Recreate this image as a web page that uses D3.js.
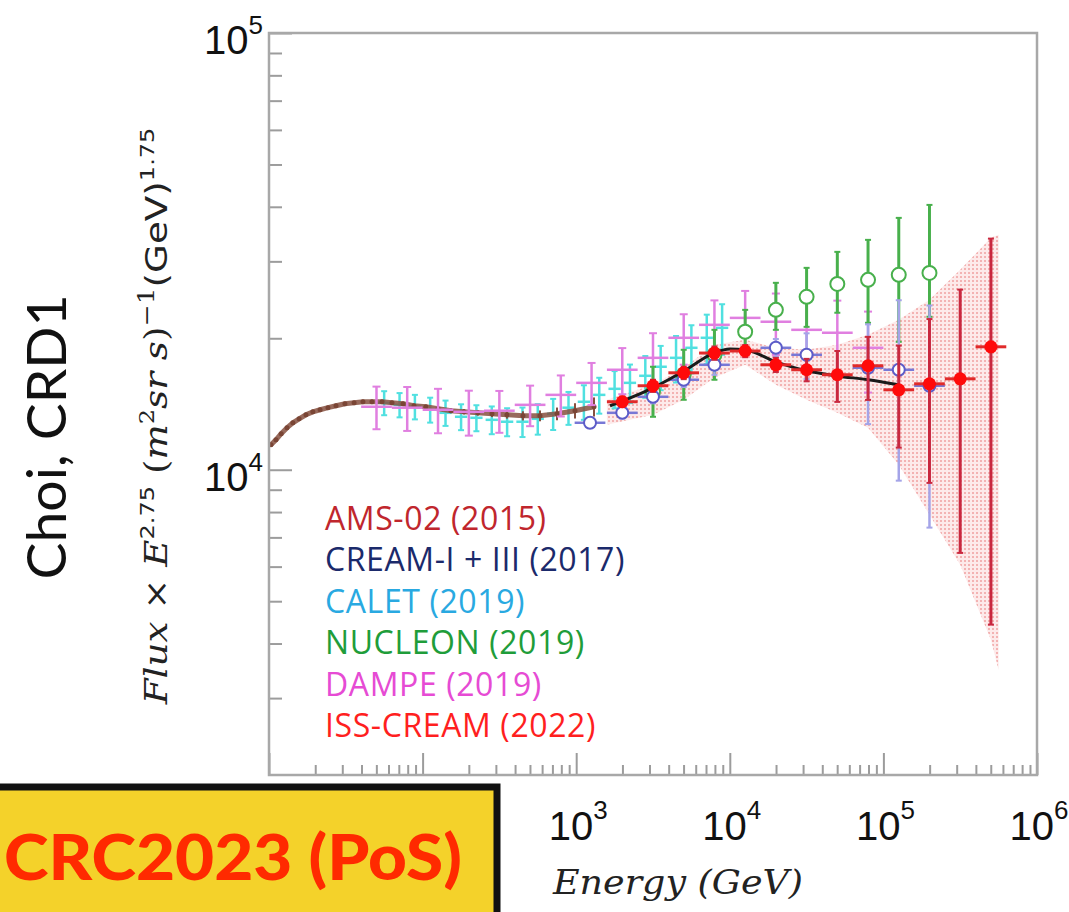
<!DOCTYPE html>
<html><head><meta charset="utf-8">
<script src="https://cdn.jsdelivr.net/npm/d3@7"></script>
<style>body{margin:0;background:#fff}svg{display:block}</style>
</head><body>
<svg id="c" width="1069" height="912"></svg>
<script>
// ---------------- DATA ----------------
// AMS-02 (2015)
const amsE = [10.3, 11.1, 12.0, 13.1, 14.3, 15.7, 17.4, 19.3, 21.5, 24.2, 27.3, 31.2, 35.8, 40.9, 46.8, 54.4, 63.2, 74.6, 87.9, 105, 126, 153, 186, 229, 283, 354, 450, 581, 750, 982, 1306];
const amsF = [11410, 11710, 12090, 12480, 12810, 13080, 13360, 13570, 13720, 13870, 14010, 14160, 14230, 14310, 14310, 14310, 14230, 14160, 14010, 13940, 13790, 13650, 13570, 13500, 13430, 13360, 13290, 13290, 13430, 13650, 13940];
const amsErr = [60, 60, 60, 60, 60, 60, 70, 70, 70, 70, 80, 80, 80, 90, 90, 100, 100, 110, 120, 130, 140, 160, 180, 200, 230, 270, 320, 380, 450, 550, 700];
// CALET (2019)
const calE = [56.2, 70.8, 89.1, 112, 141, 178, 224, 282, 355, 447, 562, 708, 891, 1122, 1413, 1778, 2239, 2818, 3548, 4467, 5623, 7079, 8913];
const calF = [14230, 14080, 13940, 13720, 13500, 13220, 13150, 13010, 12880, 12880, 13080, 13430, 13870, 14310, 14840, 15320, 15810, 16410, 17210, 18040, 19020, 20050, 21130];
const calErr = [900, 900, 900, 900, 900, 900, 900, 950, 950, 1000, 1050, 1100, 1200, 1300, 1400, 1500, 1600, 1800, 2000, 2200, 2400, 2600, 2800];
const calHalfBin = 0.04;
// DAMPE (2019)
const damE = [50.1, 79.4, 126, 200, 316, 501, 794, 1259, 1995, 3162, 5012, 7943, 12590, 19950, 31620, 50120, 79430];
const damF = [13940, 13870, 13720, 13570, 13650, 14080, 14840, 15810, 16940, 18040, 20050, 21470, 22270, 21820, 20910, 20590, 19020];
const damErr = [1560, 1600, 1600, 1600, 1500, 1500, 1600, 1750, 2050, 2500, 2650, 2950, 3400, 3500, 3600, 3800, 4000];
const damHalfBin = 0.1;
// NUCLEON (2019) - asymmetric errors
const nucE = [3162, 5012, 7943, 12590, 19950, 31620, 50120, 79430, 125900, 199500];
const nucF = [15080, 16500, 18330, 20700, 23230, 24880, 26640, 27210, 27940, 28230];
const nucErrHi = [2130, 2320, 2580, 2530, 3560, 4110, 4900, 6390, 9790, 12170];
const nucErrLo = [1860, 2040, 2260, 1880, 2320, 3640, 3760, 5510, 8310, 5830];
const nucHalfBin = 0.0;
// CREAM-I + III (2017)
const crE = [1230, 1995, 3162, 5012, 7943, 19950, 31620, 79430, 125900, 199500];
const crF = [12810, 13500, 14690, 16070, 17390, 19020, 18330, 17120, 16940, 15570];
const crErr = [350, 400, 500, 600, 900, 900, 2200, 4400, 7500, 8200];
const crHalfBin = 0.1;
// ISS-CREAM (2022)
const issE = [1995, 3162, 5012, 7943, 12590, 19950, 31620, 50120, 79430, 125900, 199500, 316200, 501200];
const issF = [14310, 15570, 16670, 18500, 18700, 17390, 16940, 16500, 17300, 15240, 15730, 16150, 19120];
const issErr = [400, 500, 550, 650, 600, 650, 1000, 2200, 2850, 4000, 6400, 9700, 14700];
const issHalfBin = 0.1;
// ISS-CREAM systematic band
const bandE = [1585, 3162, 5012, 7943, 12590, 19950, 31620, 50120, 79430, 125900, 199500, 316200, 501200, 562300];
const bandHi = [14460, 15650, 17120, 19320, 19840, 19020, 18820, 19320, 20370, 22040, 24490, 28690, 33960, 34500];
const bandLo = [12680, 13360, 14460, 16240, 17390, 15650, 14460, 13500, 12480, 10270, 7890, 6060, 4080, 3480];
// fit line
const fitE = [1660, 3162, 5012, 7943, 10000, 12590, 19950, 31620, 50120, 79430, 125900];
const fitF = [14010, 15400, 16820, 18520, 18900, 18820, 17660, 16850, 16400, 16070, 15650];
// axes
const xDomain = [10, 1e6];
const yDomain = [2000, 1e5];
const xTickLabels = [1e3, 1e4, 1e5, 1e6];
const yTickLabels = [1e4, 1e5];
const legendLabels = ["AMS-02 (2015)", "CREAM-I + III (2017)", "CALET (2019)", "NUCLEON (2019)", "DAMPE (2019)", "ISS-CREAM (2022)"];
const legendColors = ["#c0262d", "#1b2a6b", "#29a9e1", "#1f9d3a", "#e64bd4", "#ff1f1f"];

// ---------------- CHART ----------------
const svg = d3.select("#c");
const x = d3.scaleLog().domain(xDomain).range([269, 1037]);
const y = d3.scaleLog().domain(yDomain).range([775, 33]);

const defs = svg.append("defs");
const pat = defs.append("pattern").attr("id", "hatch").attr("patternUnits", "userSpaceOnUse").attr("width", 4).attr("height", 4);
pat.append("rect").attr("width", 4).attr("height", 4).attr("fill", "#fdeaea");
pat.append("rect").attr("width", 2).attr("height", 2).attr("fill", "#f3b3b3");

// band
const band = bandE.map((e, i) => ({e, lo: bandLo[i], hi: bandHi[i]}));
svg.append("path").datum(band)
  .attr("d", d3.area().x(d => x(d.e)).y0(d => y(d.lo)).y1(d => y(d.hi)))
  .attr("fill", "url(#hatch)");

function series(E, F, ErrLo, ErrHi, halfDex, o) {
  const g = svg.append("g");
  const data = E.map((e, i) => ({e, f: F[i], lo: F[i] - ErrLo[i], hi: F[i] + ErrHi[i]}));
  const k = Math.pow(10, halfDex);
  g.selectAll("line.v").data(data).join("line").attr("class", "v")
    .attr("x1", d => x(d.e)).attr("x2", d => x(d.e))
    .attr("y1", d => y(Math.max(d.lo, yDomain[0]))).attr("y2", d => y(d.hi))
    .attr("stroke", o.vcol).attr("stroke-width", o.vw);
  if (o.cap) {
    ["lo", "hi"].forEach(key => {
      g.selectAll("line.c" + key).data(data).join("line").attr("class", "c" + key)
        .attr("x1", d => x(d.e) - o.cap).attr("x2", d => x(d.e) + o.cap)
        .attr("y1", d => y(d[key])).attr("y2", d => y(d[key]))
        .attr("stroke", o.vcol).attr("stroke-width", 2);
    });
  }
  if (halfDex > 0) {
    g.selectAll("line.h").data(data).join("line").attr("class", "h")
      .attr("x1", d => x(d.e / k)).attr("x2", d => x(d.e * k))
      .attr("y1", d => y(d.f)).attr("y2", d => y(d.f))
      .attr("stroke", o.hcol).attr("stroke-width", o.hw);
  }
  if (o.r) {
    g.selectAll("circle").data(data).join("circle")
      .attr("cx", d => x(d.e)).attr("cy", d => y(d.f)).attr("r", o.r)
      .attr("fill", o.fill).attr("stroke", o.stroke).attr("stroke-width", o.sw || 0);
  }
}

// CALET
series(calE, calF, calErr, calErr, calHalfBin, {vcol: "#50e0e0", vw: 2.5, hcol: "#50e0e0", hw: 2.5, cap: 3});
// AMS-02
svg.append("path").datum(amsE.map((e, i) => [e, amsF[i]]))
  .attr("d", d3.line().x(d => x(d[0])).y(d => y(d[1])))
  .attr("fill", "none").attr("stroke", "#86503f").attr("stroke-width", 5).attr("stroke-opacity", 0.85);
series(amsE, amsF, amsErr, amsErr, 0, {vcol: "#86503f", vw: 2, r: 2.5, fill: "#7a4535"});
// DAMPE
series(damE, damF, damErr, damErr, damHalfBin, {vcol: "#e07fe0", vw: 2.5, hcol: "#e07fe0", hw: 2.5, cap: 4});
// NUCLEON
series(nucE, nucF, nucErrLo, nucErrHi, nucHalfBin, {vcol: "#48b04c", vw: 3, cap: 3, r: 7, fill: "#fff", stroke: "#48b04c", sw: 2});
// CREAM
series(crE, crF, crErr, crErr, crHalfBin, {vcol: "#a4a4e8", vw: 2.5, hcol: "#7878d6", hw: 2.5, cap: 3, r: 6, fill: "#fff", stroke: "#5c5cc8", sw: 2});
// fit line
svg.append("path").datum(fitE.map((e, i) => [e, fitF[i]]))
  .attr("d", d3.line().curve(d3.curveMonotoneX).x(d => x(d[0])).y(d => y(d[1])))
  .attr("fill", "none").attr("stroke", "#1a1a1a").attr("stroke-width", 3);
// ISS-CREAM
series(issE, issF, issErr, issErr, issHalfBin, {vcol: "#c9283f", vw: 3, hcol: "#e02a2a", hw: 3, cap: 3, r: 6.5, fill: "#ff0a0a"});

// ---------------- AXES ----------------
const axisCol = "#9c9c9c";
const xMinor = [], yMinor = [];
for (let d = 10; d < xDomain[1]; d *= 10) for (let m = 2; m <= 9; m++) xMinor.push(d * m);
for (let d = 1000; d < yDomain[1]; d *= 10) for (let m = 2; m <= 9; m++) { const v = d * m; if (v > yDomain[0] && v < yDomain[1]) yMinor.push(v); }
const xMajor = [10, 100, 1e3, 1e4, 1e5, 1e6];
const yMajor = [1e4, 1e5];

function styleAxis(g) { g.select(".domain").remove(); g.selectAll("line").attr("stroke", axisCol).attr("stroke-width", 2); }
svg.append("g").attr("transform", "translate(0,775)").call(d3.axisBottom(x).tickValues(xMinor).tickSize(-10).tickFormat("")).call(styleAxis);
svg.append("g").attr("transform", "translate(0,775)").call(d3.axisBottom(x).tickValues(xMajor).tickSize(-22).tickFormat("")).call(styleAxis);
svg.append("g").attr("transform", "translate(269,0)").call(d3.axisLeft(y).tickValues(yMinor).tickSize(-13).tickFormat("")).call(styleAxis);
svg.append("g").attr("transform", "translate(269,0)").call(d3.axisLeft(y).tickValues(yMajor).tickSize(-23).tickFormat("")).call(styleAxis);
svg.append("rect").attr("x", 269).attr("y", 33).attr("width", 768).attr("height", 742)
  .attr("fill", "none").attr("stroke", "#a8a8a8").attr("stroke-width", 2.5);

const numFont = "'Liberation Sans', Arial, sans-serif";
svg.selectAll("text.xl").data(xTickLabels).join("text").attr("class", "xl")
  .attr("x", d => x(d) + 2).attr("y", 840).attr("text-anchor", "middle")
  .attr("font-family", numFont).attr("font-size", 40).attr("fill", "#111")
  .each(function(d) {
    const t = d3.select(this);
    t.append("tspan").text("10");
    t.append("tspan").attr("dy", -21).attr("font-size", 26).text(Math.round(Math.log10(d)));
  });
svg.selectAll("text.yl").data(yTickLabels).join("text").attr("class", "yl")
  .attr("x", 263).attr("y", d => y(d) + 21).attr("text-anchor", "end")
  .attr("font-family", numFont).attr("font-size", 40).attr("fill", "#111")
  .each(function(d) {
    const t = d3.select(this);
    t.append("tspan").text("10");
    t.append("tspan").attr("dy", -20).attr("font-size", 26).text(Math.round(Math.log10(d)));
  });

// axis titles
svg.append("text").attr("x", 553).attr("y", 894)
  .attr("font-family", "'DejaVu Serif', serif").attr("font-style", "italic").attr("font-size", 33)
  .attr("textLength", 250).attr("lengthAdjust", "spacingAndGlyphs").attr("fill", "#222")
  .text("Energy (GeV)");

const yt = svg.append("text").attr("text-anchor", "middle")
  .attr("font-family", "'DejaVu Serif', serif").attr("font-size", 31).attr("fill", "#222");
const serifI = s => yt.append("tspan").attr("font-style", "italic").text(s);
serifI("Flux");
yt.append("tspan").text(" × ");
serifI("E");
yt.append("tspan").attr("dy", -13).attr("font-size", 20).attr("font-family", "'DejaVu Sans', sans-serif").text("2.75");
yt.append("tspan").attr("dy", 13).text(" (");
serifI("m");
yt.append("tspan").attr("dy", -13).attr("font-size", 20).text("2");
yt.append("tspan").attr("dy", 13).attr("font-style", "italic").text("sr s");
yt.append("tspan").text(")");
yt.append("tspan").attr("dy", -13).attr("font-size", 22).text("−1");
yt.append("tspan").attr("dy", 13).attr("font-family", "'DejaVu Sans', sans-serif").text("(GeV)");
yt.append("tspan").attr("dy", -13).attr("font-size", 20).attr("font-family", "'DejaVu Sans', sans-serif").text("1.75");
const ylen = yt.node().getComputedTextLength();
yt.attr("transform", `translate(167,416) rotate(-90) scale(${577 / ylen},1)`);

// legend
svg.selectAll("text.leg").data(legendLabels).join("text").attr("class", "leg")
  .attr("x", 325).attr("y", (d, i) => 530 + i * 41.4)
  .attr("font-family", "'Open Sans', sans-serif").attr("font-size", 32).attr("letter-spacing", 0.6)
  .attr("fill", (d, i) => legendColors[i]).text(d => d);

// side label
svg.append("text").attr("transform", "translate(66,437) rotate(-90)").attr("text-anchor", "middle")
  .attr("font-family", "'Comic Sans MS', 'Lato', sans-serif").attr("font-size", 54)
  .attr("textLength", 285).attr("lengthAdjust", "spacingAndGlyphs").attr("fill", "#111")
  .text("Choi, CRD1");

// yellow box
svg.append("rect").attr("x", -10).attr("y", 787).attr("width", 507).attr("height", 140)
  .attr("fill", "#f4d22a").attr("stroke", "#111").attr("stroke-width", 7);
svg.append("text").attr("x", 4).attr("y", 880)
  .attr("font-family", "'Comic Sans MS', 'Lato', sans-serif").attr("font-weight", 900).attr("font-size", 62)
  .attr("textLength", 458).attr("lengthAdjust", "spacingAndGlyphs").attr("fill", "#ff2a00")
  .text("CRC2023 (PoS)");
</script>
</body></html>
